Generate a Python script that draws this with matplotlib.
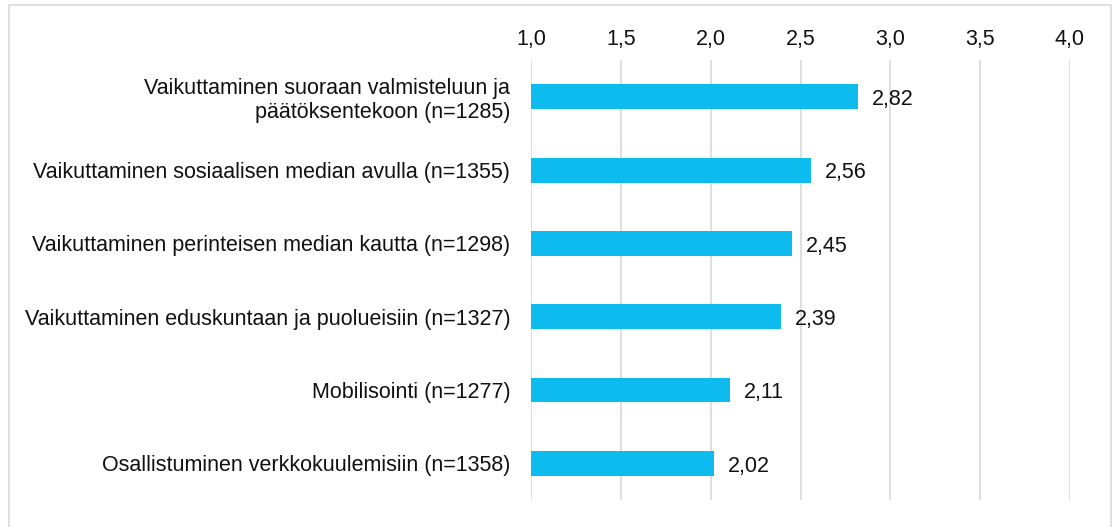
import matplotlib.pyplot as plt
from matplotlib.patches import Rectangle

plt.rcParams['font.family'] = ['Liberation Sans', 'DejaVu Sans']

# Data
categories = [
    'Vaikuttaminen suoraan valmisteluun ja\npäätöksentekoon (n=1285)',
    'Vaikuttaminen sosiaalisen median avulla (n=1355)',
    'Vaikuttaminen perinteisen median kautta (n=1298)',
    'Vaikuttaminen eduskuntaan ja puolueisiin (n=1327)',
    'Mobilisointi (n=1277)',
    'Osallistuminen verkkokuulemisiin (n=1358)',
]
values = [2.82, 2.56, 2.45, 2.39, 2.11, 2.02]
ticks = [1.0, 1.5, 2.0, 2.5, 3.0, 3.5, 4.0]

FS = 15.5

fig = plt.figure(figsize=(11.14, 5.27), dpi=100)
ax = fig.add_axes([0.4767, 0.0512, 0.4838, 0.8348])

ypos = range(len(categories))
ax.barh(ypos, [v - 1.0 for v in values], left=1.0, height=0.34,
        color='#0DBBEF', zorder=3)

for y, v in zip(ypos, values):
    ax.annotate(f'{v:.2f}'.replace('.', ','), xy=(v, y), xytext=(10, -2),
                textcoords='offset points', va='center', ha='left',
                fontsize=FS, color='#111111')

ax.set_xlim(1.0, 4.0)
ax.set_ylim(len(categories) - 0.5, -0.5)
ax.set_xticks(ticks)
ax.set_xticklabels([f'{t:.1f}'.replace('.', ',') for t in ticks])
ax.xaxis.tick_top()
ax.tick_params(axis='x', length=0, pad=7, labelsize=FS, colors='#111111')
ax.set_yticks(list(ypos))
ax.set_yticklabels(categories, fontsize=FS, color='#111111', linespacing=1.15)
ax.tick_params(axis='y', length=0, pad=15)
for lab in ax.get_yticklabels():
    lab.set_horizontalalignment('right')
    lab.set_multialignment('right')

ax.grid(axis='x', color='#D9D9D9', linewidth=1.2, zorder=0)
for s in ax.spines.values():
    s.set_visible(False)

# light border around the chart area
fig.patches.append(Rectangle((9 / 1114, -0.01), 1102 / 1114, 1 - 5 / 527 + 0.01,
                             transform=fig.transFigure, fill=False,
                             edgecolor='#D9D9D9', linewidth=1.2))

plt.savefig('out.png', dpi=100)
